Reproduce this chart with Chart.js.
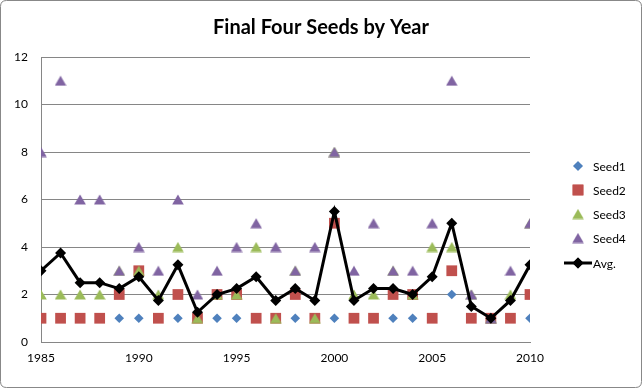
<!DOCTYPE html>
<html><head><meta charset="utf-8">
<script src="https://cdn.jsdelivr.net/npm/chart.js@4/dist/chart.umd.min.js"></script>
<style>html,body{margin:0;padding:0;background:#fff}#wrap{width:642px;height:388px;position:relative}</style>
</head><body><div id="wrap"><canvas id="c" width="642" height="388"></canvas></div>
<script>
const years = [1985,1986,1987,1988,1989,1990,1991,1992,1993,1994,1995,1996,1997,1998,1999,2000,2001,2002,2003,2004,2005,2006,2007,2008,2009,2010];
const seed1 = [1,1,1,1,1,1,1,1,1,1,1,1,1,1,1,1,1,1,1,1,1,2,1,1,1,1];
const seed2 = [1,1,1,1,2,3,1,2,1,2,2,1,1,2,1,5,1,1,2,2,1,3,1,1,1,2];
const seed3 = [2,2,2,2,3,3,2,4,1,2,2,4,1,3,1,8,2,2,3,2,4,4,2,1,2,5];
const seed4 = [8,11,6,6,3,4,3,6,2,3,4,5,4,3,4,8,3,5,3,3,5,11,2,1,3,5];
const avg = [3,3.75,2.5,2.5,2.25,2.75,1.75,3.25,1.25,2,2.25,2.75,1.75,2.25,1.75,5.5,1.75,2.25,2.25,2,2.75,5,1.5,1,1.75,3.25];
const seriesNames = ['Seed1','Seed2','Seed3','Seed4','Avg.'];
const chartTitle = 'Final Four Seeds by Year';

const FONT = 'Lato, "Open Sans", sans-serif';
const pts = arr => years.map((y,i)=>({x:y,y:arr[i]}));
function triangleImg(color){
  const c = document.createElement('canvas');
  c.width = 12; c.height = 11;
  const g = c.getContext('2d');
  g.fillStyle = color;
  g.beginPath(); g.moveTo(6,0.5); g.lineTo(11.8,10.5); g.lineTo(0.2,10.5); g.closePath(); g.fill();
  return c;
}
const styles = [
  {c:'#4F81BD', ps:'rectRot', r:4.8},
  {c:'#C0504D', ps:'rect', r:7.6},
  {c:'#9BBB59', ps:triangleImg('#9BBB59'), r:6},
  {c:'#8064A2', ps:triangleImg('#8064A2'), r:6},
  {c:'#000000', ps:'rectRot', r:5.5}
];
const series = [seed1,seed2,seed3,seed4,avg];
const datasets = series.map((s,i)=>({
  label: seriesNames[i],
  data: pts(s),
  showLine: i===4,
  borderColor: styles[i].c,
  backgroundColor: styles[i].c,
  borderWidth: i===4 ? 3 : 0,
  pointStyle: styles[i].ps,
  pointRadius: styles[i].r,
  pointBorderWidth: 0,
  pointBackgroundColor: styles[i].c,
  order: 4 - i,
  tension: 0
}));

const deco = {
  id:'deco',
  afterDraw(chart){
    const ctx = chart.ctx;
    ctx.save();
    ctx.strokeStyle = '#888';
    ctx.lineWidth = 1;
    const w = chart.width, h = chart.height, r = 6;
    ctx.beginPath();
    ctx.moveTo(0.5+r,0.5); ctx.lineTo(w-0.5-r,0.5); ctx.quadraticCurveTo(w-0.5,0.5,w-0.5,0.5+r);
    ctx.lineTo(w-0.5,h-0.5-r); ctx.quadraticCurveTo(w-0.5,h-0.5,w-0.5-r,h-0.5);
    ctx.lineTo(0.5+r,h-0.5); ctx.quadraticCurveTo(0.5,h-0.5,0.5,h-0.5-r);
    ctx.lineTo(0.5,0.5+r); ctx.quadraticCurveTo(0.5,0.5,0.5+r,0.5);
    ctx.stroke();
    ctx.fillStyle = '#000';
    ctx.font = 'bold 20px ' + FONT;
    ctx.textAlign = 'center'; ctx.textBaseline = 'middle';
    ctx.fillText(chartTitle, 321, 28);
    const rows = [166,190,214,238,263];
    ctx.font = '12px ' + FONT;
    ctx.textAlign = 'left';
    rows.forEach((y,i)=>{
      const s = styles[i];
      ctx.fillStyle = s.c;
      if (i===4){
        ctx.strokeStyle = '#000'; ctx.lineWidth = 3;
        ctx.beginPath(); ctx.moveTo(564,y); ctx.lineTo(592,y); ctx.stroke();
      }
      ctx.beginPath();
      Chart.helpers.drawPoint(ctx, {pointStyle:s.ps, radius:s.r, borderWidth:0}, 578, y);
      ctx.fill();
      ctx.fillStyle = '#000';
      ctx.fillText(seriesNames[i], 593, y+1);
    });
    ctx.restore();
  }
};

new Chart(document.getElementById('c'), {
  type:'scatter',
  data:{datasets},
  options:{
    responsive:false,
    animation:false,
    events:[],
    layout:{padding:{left:0,right:112,top:57,bottom:0}},
    plugins:{legend:{display:false},title:{display:false},tooltip:{enabled:false}},
    scales:{
      x:{
        type:'linear', min:1985, max:2010,
        ticks:{stepSize:5, color:'#000', font:{family:FONT,size:12}, padding:9, callback:v=>String(v)},
        grid:{display:false, drawTicks:false},
        border:{display:true,color:'#868686',width:1},
        afterFit(s){ s.height = 46; }
      },
      y:{
        min:0, max:12,
        ticks:{stepSize:2, color:'#000', font:{family:FONT,size:12}, padding:13},
        grid:{color:'#868686', lineWidth:1, drawTicks:false},
        border:{display:true,color:'#868686',width:1},
        afterFit(s){ s.width = 41; }
      }
    }
  },
  plugins:[deco]
});
</script></body></html>
